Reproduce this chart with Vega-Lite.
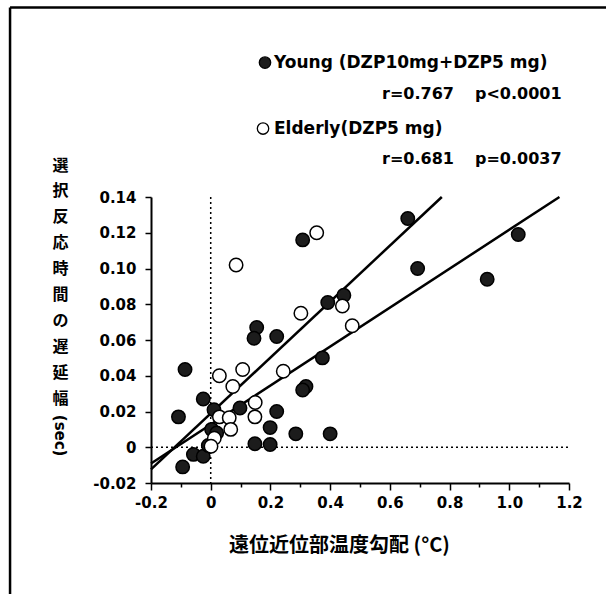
{
  "$schema": "https://vega.github.io/schema/vega-lite/v6.json",
  "width": 418,
  "height": 286,
  "autosize": {"type": "none"},
  "padding": {"left": 151, "top": 197, "right": 37, "bottom": 111},
  "background": "white",
  "config": {"view": {"stroke": null}},
  "datasets": {
    "frame": [
      {"x": -0.6721, "y": 0.246, "x2": 1.33, "y2": 0.246},
      {"x": -0.6721, "y": 0.246, "x2": -0.6721, "y2": -0.09}
    ],
    "guides": [
      {"x": 0, "y": 0.14, "x2": 0, "y2": -0.02},
      {"x": -0.2, "y": 0, "x2": 1.2, "y2": 0}
    ],
    "fits": [
      {"group": "Young", "x": -0.2, "y": -0.0091, "x2": 1.168, "y2": 0.14},
      {"group": "Elderly", "x": -0.2, "y": -0.0124, "x2": 0.774, "y2": 0.14}
    ],
    "points": [
      {"group": "Young", "x": 0.66, "y": 0.128},
      {"group": "Young", "x": 0.308, "y": 0.116},
      {"group": "Young", "x": 0.693, "y": 0.1},
      {"group": "Young", "x": 0.446, "y": 0.085},
      {"group": "Young", "x": 0.392, "y": 0.081},
      {"group": "Young", "x": 0.154, "y": 0.067},
      {"group": "Young", "x": 0.145, "y": 0.061},
      {"group": "Young", "x": 0.221, "y": 0.062},
      {"group": "Young", "x": 0.374, "y": 0.05},
      {"group": "Young", "x": -0.086, "y": 0.0435},
      {"group": "Young", "x": 0.319, "y": 0.034},
      {"group": "Young", "x": 0.308, "y": 0.032},
      {"group": "Young", "x": -0.025, "y": 0.027},
      {"group": "Young", "x": 0.098, "y": 0.022},
      {"group": "Young", "x": 0.011, "y": 0.021},
      {"group": "Young", "x": -0.108, "y": 0.017},
      {"group": "Young", "x": 0.221, "y": 0.02},
      {"group": "Young", "x": 0.199, "y": 0.011},
      {"group": "Young", "x": 0.285, "y": 0.0075},
      {"group": "Young", "x": 0.4, "y": 0.0075},
      {"group": "Young", "x": 0.148, "y": 0.002},
      {"group": "Young", "x": 0.199, "y": 0.0015},
      {"group": "Young", "x": 0.003, "y": 0.01},
      {"group": "Young", "x": 0.02, "y": 0.008},
      {"group": "Young", "x": -0.058, "y": -0.004},
      {"group": "Young", "x": -0.025, "y": -0.005},
      {"group": "Young", "x": -0.094, "y": -0.011},
      {"group": "Young", "x": -0.008, "y": 0.001},
      {"group": "Young", "x": 1.03, "y": 0.119},
      {"group": "Young", "x": 0.926, "y": 0.094},
      {"group": "Elderly", "x": 0.355, "y": 0.12},
      {"group": "Elderly", "x": 0.085, "y": 0.102},
      {"group": "Elderly", "x": 0.302, "y": 0.075},
      {"group": "Elderly", "x": 0.441, "y": 0.079},
      {"group": "Elderly", "x": 0.474, "y": 0.068},
      {"group": "Elderly", "x": 0.243, "y": 0.0425},
      {"group": "Elderly", "x": 0.107, "y": 0.0435},
      {"group": "Elderly", "x": 0.029, "y": 0.04},
      {"group": "Elderly", "x": 0.074, "y": 0.034},
      {"group": "Elderly", "x": 0.149, "y": 0.025},
      {"group": "Elderly", "x": 0.148, "y": 0.017},
      {"group": "Elderly", "x": 0.029, "y": 0.017},
      {"group": "Elderly", "x": 0.062, "y": 0.0165},
      {"group": "Elderly", "x": 0.067, "y": 0.01},
      {"group": "Elderly", "x": 0.012, "y": 0.005},
      {"group": "Elderly", "x": 0.001, "y": 0.0006}
    ],
    "keys": [
      {"group": "Young", "x": 0.1818, "y": 0.2152},
      {"group": "Elderly", "x": 0.1752, "y": 0.1783}
    ],
    "keyText": [
      {"x": 0.212, "y": 0.2152, "text": "Young  (DZP10mg+DZP5 mg)"},
      {"x": 0.212, "y": 0.1783, "text": "Elderly(DZP5 mg)"}
    ],
    "stats": [
      {"x": 0.5737, "y": 0.1979, "text": "r=0.767"},
      {"x": 0.8851, "y": 0.1979, "text": "p<0.0001"},
      {"x": 0.5737, "y": 0.1615, "text": "r=0.681"},
      {"x": 0.8851, "y": 0.1615, "text": "p=0.0037"}
    ],
    "unit": [
      {"x": -0.5047, "y": 0.0065, "text": "(sec)"}
    ]
  },
  "encoding": {
    "x": {
      "field": "x",
      "type": "quantitative",
      "scale": {"domain": [-0.2, 1.2], "nice": false, "zero": false},
      "axis": {
        "values": [-0.2, -0.1, 0, 0.1, 0.2, 0.3, 0.4, 0.5, 0.6, 0.7, 0.8, 0.9, 1.0, 1.1, 1.2],
        "labelExpr": "abs(round(datum.value*10)) % 2 == 1 ? '' : (datum.value == 0 ? '0' : replace(format(datum.value, '.1f'), '\u2212', '-'))",
        "tickSize": {"condition": {"test": "abs(round(datum.value*10)) % 2 == 1", "value": 4}, "value": 7},
        "domainColor": "black",
        "domainWidth": 2,
        "tickColor": "black",
        "tickWidth": 1.5,
        "labelFont": "DejaVu Sans",
        "labelFontWeight": "bold",
        "labelFontSize": 15,
        "labelColor": "black",
        "labelPadding": 5,
        "labelFlush": false,
        "labelOverlap": false,
        "grid": false,
        "title": "遠位近位部温度勾配 (°C)",
        "titleFont": "Noto Sans CJK JP",
        "titleFontWeight": "bold",
        "titleFontSize": 20,
        "titleColor": "black",
        "titleX": 188,
        "titleY": 62,
        "titleAlign": "center",
        "titleBaseline": "middle"
      }
    },
    "y": {
      "field": "y",
      "type": "quantitative",
      "scale": {"domain": [-0.02, 0.14], "nice": false, "zero": false},
      "axis": {
        "values": [-0.02, 0, 0.02, 0.04, 0.06, 0.08, 0.1, 0.12, 0.14],
        "labelExpr": "datum.value == 0 ? '0' : replace(format(datum.value, '.2f'), '\u2212', '-')",
        "tickSize": 6,
        "domainColor": "black",
        "domainWidth": 2,
        "tickColor": "black",
        "tickWidth": 1.5,
        "labelFont": "DejaVu Sans",
        "labelFontWeight": "bold",
        "labelFontSize": 15,
        "labelColor": "black",
        "labelPadding": 9,
        "labelFlush": false,
        "labelOverlap": false,
        "grid": false,
        "title": ["選", "択", "反", "応", "時", "間", "の", "遅", "延", "幅"],
        "titleFont": "Noto Sans CJK JP",
        "titleFontWeight": "bold",
        "titleFontSize": 16,
        "titleColor": "black",
        "titleAngle": 0,
        "titleX": -91,
        "titleY": -40,
        "titleAlign": "center",
        "titleBaseline": "top",
        "titleLineHeight": 25.9
      }
    }
  },
  "layer": [
    {
      "data": {"name": "frame"},
      "mark": {"type": "rule", "color": "black", "strokeWidth": 2.5},
      "encoding": {"x2": {"field": "x2"}, "y2": {"field": "y2"}}
    },
    {
      "data": {"name": "guides"},
      "mark": {"type": "rule", "color": "black", "strokeWidth": 1.5, "strokeDash": [2, 3]},
      "encoding": {"x2": {"field": "x2"}, "y2": {"field": "y2"}}
    },
    {
      "data": {"name": "fits"},
      "mark": {"type": "rule", "color": "black", "strokeWidth": 2.5},
      "encoding": {"x2": {"field": "x2"}, "y2": {"field": "y2"}}
    },
    {
      "data": {"name": "points"},
      "mark": {"type": "point", "shape": "circle", "filled": true, "size": 180, "stroke": "black", "strokeWidth": 1.5, "opacity": 1},
      "encoding": {
        "fill": {"field": "group", "type": "nominal", "scale": {"domain": ["Young", "Elderly"], "range": ["#1c1c1c", "#ffffff"]}, "legend": null}
      }
    },
    {
      "data": {"name": "keys"},
      "mark": {"type": "point", "shape": "circle", "filled": true, "size": 130, "stroke": "black", "strokeWidth": 1.3, "opacity": 1},
      "encoding": {
        "fill": {"field": "group", "type": "nominal", "scale": {"domain": ["Young", "Elderly"], "range": ["#1c1c1c", "#ffffff"]}, "legend": null}
      }
    },
    {
      "data": {"name": "keyText"},
      "mark": {"type": "text", "align": "left", "baseline": "middle", "font": "DejaVu Sans", "fontWeight": "bold", "fontSize": 17, "color": "black"},
      "encoding": {"text": {"field": "text"}}
    },
    {
      "data": {"name": "stats"},
      "mark": {"type": "text", "align": "left", "baseline": "middle", "font": "DejaVu Sans", "fontWeight": "bold", "fontSize": 16, "color": "black"},
      "encoding": {"text": {"field": "text"}}
    },
    {
      "data": {"name": "unit"},
      "mark": {"type": "text", "align": "center", "baseline": "middle", "angle": 90, "font": "DejaVu Sans", "fontWeight": "bold", "fontSize": 15, "color": "black"},
      "encoding": {"text": {"field": "text"}}
    }
  ]
}
